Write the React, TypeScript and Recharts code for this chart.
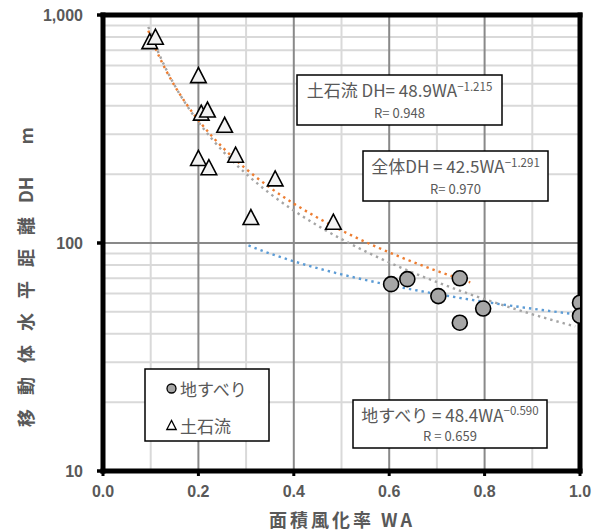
import React from "react";
import {
  ComposedChart,
  XAxis,
  YAxis,
  Scatter,
  Line,
  ReferenceLine,
} from "recharts";

// 土石流 (debris flow) observations
const debrisWA = [0.098, 0.11, 0.2, 0.206, 0.219, 0.255, 0.278, 0.2, 0.222, 0.361, 0.31, 0.483];
const debrisDH = [768, 803, 545, 373, 385, 330, 244, 236, 215, 192, 130, 124];

// 地すべり (landslide) observations
const slideWA = [0.604, 0.638, 0.748, 0.703, 0.797, 0.748, 1.0, 1.0];
const slideDH = [66, 69.4, 70, 58.5, 51.6, 44.7, 54.7, 47.9];

// Power-law fits DH = a · WA^b, as stated in the equation boxes
const debrisFit = { a: 48.9, b: -1.215, r: "0.948" };
const overallFit = { a: 42.5, b: -1.291, r: "0.970" };
const slideFit = { a: 48.4, b: -0.59, r: "0.659" };

// WA positions at which each fitted curve is sampled
const debrisCurveWA = [0.095, 0.11, 0.13, 0.15, 0.175, 0.2, 0.23, 0.26, 0.3, 0.35, 0.4, 0.45, 0.5, 0.56, 0.62, 0.69, 0.77];
const overallCurveWA = [0.095, 0.11, 0.13, 0.15, 0.175, 0.2, 0.23, 0.26, 0.3, 0.35, 0.4, 0.45, 0.5, 0.56, 0.62, 0.69, 0.77, 0.85, 0.92, 0.99];
const slideCurveWA = [0.305, 0.35, 0.4, 0.45, 0.5, 0.6, 0.7, 0.8, 0.9, 1.0];

// Axis ticks, gridlines and plot frame
const xTicks = [0, 0.2, 0.4, 0.6, 0.8, 1.0];
const xMinorGrid = [0.1, 0.3, 0.5, 0.7, 0.9];
const xMajorGrid = [0.2, 0.4, 0.6, 0.8];
const yTicks = [10, 100, 1000];
const yMinorGrid = [20, 30, 40, 50, 60, 70, 80, 90, 200, 300, 400, 500, 600, 700, 800, 900];
const yMajorGrid = [100];
const xFrame = [0, 1];
const yFrame = [10, 1000];

const toPoints = (xs: number[], ys: number[]) => xs.map((x, i) => ({ x, y: ys[i] }));
const curve = (xs: number[], fit: { a: number; b: number }) =>
  xs.map((x) => ({ x, y: fit.a * Math.pow(x, fit.b) }));

const debrisPoints = toPoints(debrisWA, debrisDH);
const slidePoints = toPoints(slideWA, slideDH);
const debrisCurve = curve(debrisCurveWA, debrisFit);
const overallCurve = curve(overallCurveWA, overallFit);
const slideCurve = curve(slideCurveWA, slideFit);

// plot-area layout (pixels)
const PLOT = { left: 103, top: 15, right: 580, bottom: 471 };

const TEXT = "#595959";
const CJK = "'Noto Sans CJK JP', 'Noto Sans', sans-serif";
const LATIN = "'Liberation Sans', Arial, sans-serif";

const CircleMark = (props: any) => {
  const { cx, cy } = props;
  if (cx == null || cy == null) return <g />;
  return <circle cx={cx} cy={cy} r={7.5} fill="#a6a6a6" stroke="#000" strokeWidth={1.6} />;
};

const TriangleMark = (props: any) => {
  const { cx, cy } = props;
  if (cx == null || cy == null) return <g />;
  const w = 7.8;
  const h = 7.5;
  return (
    <polygon
      points={`${cx},${cy - h} ${cx - w},${cy + h} ${cx + w},${cy + h}`}
      fill="#f2f2f2"
      stroke="#000"
      strokeWidth={1.6}
      strokeLinejoin="miter"
    />
  );
};

const fmtY = (v: number) => v.toLocaleString("en-US");
const fmtX = (v: number) => v.toFixed(1);

// tick mark + label, drawn from the axis position Recharts hands over
const XTick = (props: any) => {
  const { x, y, payload } = props;
  return (
    <g>
      <rect x={x - 1.5} y={y} width={3} height={5} fill="#000" />
      <text
        x={x}
        y={y + 20}
        textAnchor="middle"
        dominantBaseline="central"
        fill={TEXT}
        fontSize={16}
        fontWeight={700}
        fontFamily={LATIN}
      >
        {fmtX(payload.value)}
      </text>
    </g>
  );
};

const YTick = (props: any) => {
  const { x, y, payload } = props;
  return (
    <g>
      <rect x={x - 6} y={y - 1.75} width={6} height={3.5} fill="#000" />
      <text
        x={x - 20}
        y={y}
        textAnchor="end"
        dominantBaseline="central"
        fill={TEXT}
        fontSize={16}
        fontWeight={700}
        fontFamily={LATIN}
      >
        {fmtY(payload.value)}
      </text>
    </g>
  );
};

const dotted = { strokeWidth: 2.4, strokeDasharray: "2.4 4" };

function EquationBox(props: {
  x: number;
  y: number;
  w: number;
  h: number;
  lead: string;
  exp: string;
  r: string;
  line1Y: number;
  line2Y: number;
}) {
  const { x, y, w, h, lead, exp, r, line1Y, line2Y } = props;
  const cx = x + w / 2;
  return (
    <g>
      <rect x={x} y={y} width={w} height={h} fill="#fff" stroke="#000" strokeWidth={1.5} />
      <text x={cx} y={line1Y} textAnchor="middle" fontFamily={CJK} fontSize={17} fill={TEXT}>
        {lead}
        <tspan dy={-6.5} fontSize={11.5}>
          {exp}
        </tspan>
      </text>
      <text x={cx} y={line2Y} textAnchor="middle" fontFamily={CJK} fontSize={13} fill={TEXT}>
        {r}
      </text>
    </g>
  );
}

export default function App() {
  return (
    <div style={{ position: "relative", width: 597, height: 531, background: "#fff" }}>
      <style>{"body{margin:0;}"}</style>
      <ComposedChart
        width={597}
        height={531}
        margin={{ top: PLOT.top, right: 597 - PLOT.right, bottom: 0, left: 0 }}
        style={{ position: "absolute", left: 0, top: 0 }}
      >
        <XAxis
          type="number"
          dataKey="x"
          domain={[0, 1]}
          ticks={xTicks}
          allowDataOverflow
          height={531 - PLOT.bottom}
          axisLine={false}
          tickLine={false}
          tickSize={0}
          tickMargin={0}
          tick={<XTick />}
          interval={0}
        />
        <YAxis
          type="number"
          dataKey="y"
          scale="log"
          domain={[10, 1000]}
          ticks={yTicks}
          allowDataOverflow
          width={PLOT.left}
          axisLine={false}
          tickLine={false}
          tickSize={0}
          tickMargin={0}
          tick={<YTick />}
          interval={0}
        />

        {yMinorGrid.map((v) => (
          <ReferenceLine key={`ym${v}`} y={v} stroke="#d9d9d9" strokeWidth={2} />
        ))}
        {xMinorGrid.map((v) => (
          <ReferenceLine key={`xm${v}`} x={v} stroke="#d9d9d9" strokeWidth={2} />
        ))}
        {yMajorGrid.map((v) => (
          <ReferenceLine key={`yM${v}`} y={v} stroke="#898989" strokeWidth={2} />
        ))}
        {xMajorGrid.map((v) => (
          <ReferenceLine key={`xM${v}`} x={v} stroke="#898989" strokeWidth={2} />
        ))}

        {/* heavy plot frame along the domain edges */}
        {xFrame.map((v) => (
          <ReferenceLine key={`xf${v}`} x={v} stroke="#000" strokeWidth={5} strokeLinecap="square" />
        ))}
        {yFrame.map((v) => (
          <ReferenceLine key={`yf${v}`} y={v} stroke="#000" strokeWidth={5} strokeLinecap="square" />
        ))}

        <Scatter
          name="土石流"
          data={debrisPoints}
          shape={<TriangleMark />}
          isAnimationActive={false}
        />
        <Scatter
          name="地すべり"
          data={slidePoints}
          shape={<CircleMark />}
          isAnimationActive={false}
        />

        <Line
          data={overallCurve}
          dataKey="y"
          type="monotone"
          stroke="#a5a5a5"
          dot={false}
          activeDot={false}
          isAnimationActive={false}
          {...dotted}
        />
        <Line
          data={debrisCurve}
          dataKey="y"
          type="monotone"
          stroke="#ed7d31"
          dot={false}
          activeDot={false}
          isAnimationActive={false}
          {...dotted}
        />
        <Line
          data={slideCurve}
          dataKey="y"
          type="monotone"
          stroke="#5b9bd5"
          dot={false}
          activeDot={false}
          isAnimationActive={false}
          {...dotted}
        />
      </ComposedChart>

      <svg
        width={597}
        height={531}
        style={{ position: "absolute", left: 0, top: 0, pointerEvents: "none" }}
      >
        {/* axis titles */}
        <text
          x={342}
          y={519}
          textAnchor="middle"
          dominantBaseline="central"
          fontFamily={CJK}
          fontWeight={700}
          fontSize={18}
          letterSpacing={3}
          fill={TEXT}
        >
          面積風化率 WA
        </text>
        <text
          x={25}
          y={427}
          transform="rotate(-90 25 427)"
          dominantBaseline="central"
          fontFamily={CJK}
          fontWeight={700}
          fontSize={18}
          fill={TEXT}
        >
          <tspan letterSpacing={14}>移動体水平距離</tspan>
          <tspan dx={0}>DH</tspan>
          <tspan dx={32}>m</tspan>
        </text>

        {/* fitted equations */}
        <EquationBox
          x={297}
          y={75}
          w={205}
          h={50}
          lead="土石流 DH= 48.9WA"
          exp={`−${Math.abs(debrisFit.b).toFixed(3)}`}
          r={`R= ${debrisFit.r}`}
          line1Y={97}
          line2Y={117.5}
        />
        <EquationBox
          x={363}
          y={151}
          w={185}
          h={50}
          lead="全体DH = 42.5WA"
          exp={`−${Math.abs(overallFit.b).toFixed(3)}`}
          r={`R= ${overallFit.r}`}
          line1Y={173}
          line2Y={193.5}
        />
        <EquationBox
          x={353}
          y={400}
          w={194}
          h={48}
          lead="地すべり = 48.4WA"
          exp={`−${Math.abs(slideFit.b).toFixed(3)}`}
          r={`R = ${slideFit.r}`}
          line1Y={421.5}
          line2Y={441}
        />

        {/* legend */}
        <g>
          <rect x={145} y={369} width={124} height={72} fill="#fff" stroke="#000" strokeWidth={1.5} />
          <circle cx={171.5} cy={388.5} r={4.5} fill="#a6a6a6" stroke="#000" strokeWidth={1.3} />
          <text x={180} y={388.5} dominantBaseline="central" fontFamily={CJK} fontSize={17} fill={TEXT}>
            地すべり
          </text>
          <polygon
            points="171.5,420.5 166.8,429.5 176.2,429.5"
            fill="#fff"
            stroke="#000"
            strokeWidth={1.3}
          />
          <text x={180} y={425.5} dominantBaseline="central" fontFamily={CJK} fontSize={17} fill={TEXT}>
            土石流
          </text>
        </g>
      </svg>
    </div>
  );
}
